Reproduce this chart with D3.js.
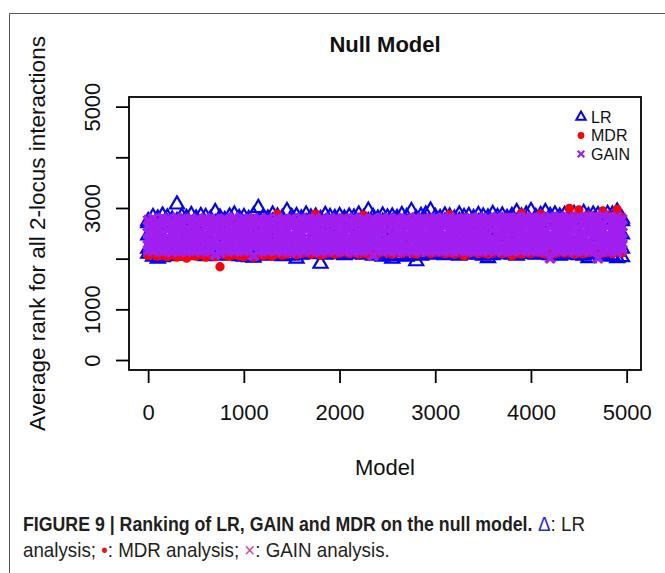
<!DOCTYPE html>
<html>
<head>
<meta charset="utf-8">
<script src="https://cdn.jsdelivr.net/npm/d3@7"></script>
<style>
  body { margin: 0; background: #fff; }
  svg { display: block; }
</style>
</head>
<body>
<div id="chart"></div>
<script>
// model index of each sampled column
const modelIds = [
  1, 51, 101, 151, 201, 251, 301, 351, 401, 451,
  501, 551, 601, 651, 701, 751, 801, 851, 901, 951,
  1001, 1051, 1101, 1151, 1201, 1251, 1301, 1351, 1401, 1451,
  1501, 1551, 1601, 1651, 1701, 1751, 1801, 1851, 1901, 1951,
  2001, 2051, 2101, 2151, 2201, 2251, 2301, 2351, 2401, 2451,
  2501, 2551, 2601, 2651, 2701, 2751, 2801, 2851, 2901, 2951,
  3001, 3051, 3101, 3151, 3201, 3251, 3301, 3351, 3401, 3451,
  3501, 3551, 3601, 3651, 3701, 3751, 3801, 3851, 3901, 3951,
  4001, 4051, 4101, 4151, 4201, 4251, 4301, 4351, 4401, 4451,
  4501, 4551, 4601, 4651, 4701, 4751, 4801, 4851, 4901, 4951
];

// LR average ranks (rows from the upper edge of the cloud to the lower edge)
const lrTop = [
  2740, 2820, 2790, 2850, 2810, 2770, 3070, 2830, 2800, 2860,
  2790, 2840, 2820, 2780, 2920, 2810, 2760, 2830, 2870, 2800,
  2820, 2780, 2850, 3000, 2810, 2790, 2870, 2830, 2800, 2940,
  2820, 2840, 2790, 2870, 2810, 2830, 2780, 2860, 2820, 2800,
  2840, 2790, 2830, 2810, 2870, 2800, 2950, 2820, 2790, 2850,
  2810, 2830, 2800, 2860, 2820, 2940, 2790, 2840, 2870, 2950,
  2820, 2800, 2850, 2830, 2790, 2870, 2820, 2840, 2800, 2860,
  2830, 2810, 2880, 2820, 2850, 2800, 2840, 2920, 2830, 2870,
  2940, 2820, 2860, 2920, 2840, 2870, 2830, 2860, 2820, 2880,
  2850, 2900, 2840, 2870, 2860, 2830, 2880, 2870, 2930, 2790
];
const lrUpper = [
  2700, 2660, 2730, 2680, 2710, 2650, 2740, 2690, 2720, 2670,
  2730, 2690, 2660, 2720, 2700, 2740, 2680, 2710, 2650, 2730,
  2690, 2720, 2670, 2740, 2700, 2660, 2730, 2690, 2710, 2680,
  2740, 2700, 2670, 2720, 2690, 2730, 2660, 2710, 2680, 2740,
  2700, 2730, 2690, 2660, 2720, 2680, 2740, 2710, 2670, 2730,
  2690, 2720, 2740, 2680, 2710, 2660, 2730, 2700, 2740, 2690,
  2720, 2680, 2730, 2710, 2670, 2740, 2700, 2690, 2730, 2720,
  2680, 2740, 2710, 2690, 2730, 2700, 2760, 2720, 2690, 2740,
  2710, 2750, 2700, 2730, 2760, 2720, 2740, 2710, 2750, 2730,
  2760, 2720, 2740, 2750, 2710, 2760, 2730, 2750, 2720, 2740
];
const lrMid = [
  2460, 2380, 2620, 2300, 2540, 2410, 2680, 2350, 2500, 2600,
  2280, 2450, 2570, 2390, 2650, 2330, 2480, 2610, 2260, 2520,
  2430, 2670, 2360, 2550, 2290, 2470, 2590, 2400, 2640, 2310,
  2500, 2380, 2620, 2440, 2270, 2560, 2410, 2660, 2340, 2490,
  2580, 2300, 2450, 2630, 2370, 2520, 2280, 2600, 2420, 2550,
  2330, 2640, 2470, 2390, 2570, 2260, 2500, 2610, 2350, 2460,
  2680, 2400, 2540, 2300, 2590, 2430, 2650, 2370, 2510, 2280,
  2620, 2450, 2340, 2570, 2410, 2660, 2290, 2530, 2390, 2600,
  2470, 2320, 2640, 2440, 2560, 2350, 2490, 2610, 2270, 2520,
  2400, 2580, 2330, 2650, 2460, 2300, 2550, 2420, 2620, 2480
];
const lrLower = [
  2200, 2230, 2180, 2210, 2240, 2190, 2220, 2170, 2230, 2200,
  2180, 2220, 2200, 2240, 2190, 2210, 2230, 2180, 2220, 2200,
  2240, 2190, 2210, 2230, 2180, 2220, 2200, 2240, 2190, 2210,
  2170, 2230, 2200, 2180, 2220, 2240, 2190, 2210, 2230, 2200,
  2220, 2180, 2240, 2200, 2210, 2190, 2230, 2180, 2220, 2240,
  2190, 2210, 2230, 2200, 2180, 2220, 2240, 2190, 2210, 2230,
  2200, 2180, 2220, 2240, 2190, 2210, 2230, 2200, 2180, 2220,
  2240, 2190, 2210, 2230, 2200, 2180, 2220, 2240, 2190, 2210,
  2230, 2200, 2180, 2220, 2240, 2190, 2210, 2230, 2200, 2180,
  2220, 2240, 2190, 2210, 2230, 2200, 2180, 2220, 2240, 2200
];
const lrBottom = [
  2100, 2040, 2000, 2030, 2050, 2070, 2090, 2060, 2080, 2100,
  2070, 2090, 2050, 2080, 2100, 2060, 2090, 2070, 2080, 2050,
  2040, 2030, 2020, 2070, 2090, 2060, 2080, 2100, 2050, 2070,
  2060, 2000, 2080, 2110, 2090, 2100, 1900, 2080, 2110, 2090,
  2100, 2070, 2110, 2090, 2120, 2080, 2100, 2060, 2090, 2040,
  2060, 2000, 2050, 2080, 2040, 2070, 1950, 2060, 2090, 2100,
  2080, 2100, 2070, 2110, 2090, 2060, 2100, 2080, 2110, 2090,
  2060, 2010, 2070, 2100, 2090, 2110, 2080, 2060, 2100, 2090,
  2100, 2080, 2110, 2090, 2070, 2100, 2060, 2090, 2110, 2080,
  2070, 2060, 2010, 2090, 2100, 2070, 2040, 2060, 2010, 2030
];

// MDR average ranks
const mdrTop = [
  2720, 2760, 2700, 2780, 2740, 2710, 2770, 2730, 2790, 2750,
  2700, 2780, 2740, 2760, 2720, 2790, 2730, 2770, 2750, 2710,
  2760, 2740, 2790, 2720, 2770, 2750, 2730, 2880, 2760, 2740,
  2780, 2720, 2770, 2750, 2790, 2880, 2740, 2760, 2730, 2780,
  2750, 2790, 2730, 2770, 2740, 2860, 2760, 2720, 2790, 2750,
  2770, 2730, 2780, 2760, 2740, 2790, 2750, 2770, 2730, 2800,
  2760, 2790, 2740, 2870, 2770, 2750, 2800, 2730, 2780, 2760,
  2790, 2750, 2800, 2770, 2740, 2810, 2760, 2790, 2900, 2780,
  2800, 2770, 2880, 2810, 2790, 2830, 2800, 2820, 2990, 2840,
  2960, 2810, 2850, 2830, 2800, 2940, 2860, 2830, 2970, 2820
];
const mdrBottom = [
  2060, 2090, 2050, 2070, 2040, 2080, 2030, 2060, 2010, 2070,
  2050, 2080, 2030, 2060, 2040, 1840, 2070, 2050, 2080, 2060,
  2040, 2070, 2030, 2090, 2060, 2080, 2050, 2100, 2070, 2090,
  2110, 2080, 2100, 2120, 2090, 2110, 2070, 2100, 2120, 2090,
  2110, 2130, 2100, 2120, 2090, 2110, 2080, 2120, 2100, 2130,
  2110, 2090, 2120, 2100, 2130, 2110, 2090, 2120, 2140, 2100,
  2120, 2130, 2100, 2110, 2090, 2120, 2060, 2110, 2130, 2100,
  2120, 2090, 2110, 2130, 2100, 2120, 2060, 2110, 2090, 2120,
  2100, 2130, 2110, 2090, 2120, 2100, 2130, 2110, 2120, 2090,
  2110, 2100, 2120, 2130, 2090, 2110, 2120, 2100, 2130, 2110
];

// GAIN average ranks, from the top of the cloud down
const gainTop = [
  2760, 2790, 2740, 2800, 2770, 2750, 2810, 2780, 2760, 2790,
  2770, 2740, 2800, 2760, 2780, 2750, 2790, 2770, 2810, 2760,
  2780, 2750, 2790, 2770, 2740, 2800, 2760, 2790, 2770, 2750,
  2790, 2760, 2800, 2780, 2750, 2790, 2770, 2760, 2800, 2780,
  2750, 2790, 2770, 2800, 2760, 2780, 2740, 2790, 2770, 2800,
  2780, 2760, 2800, 2770, 2790, 2750, 2810, 2780, 2760, 2790,
  2800, 2770, 2790, 2810, 2780, 2760, 2800, 2790, 2770, 2810,
  2780, 2800, 2770, 2820, 2790, 2800, 2780, 2810, 2790, 2820,
  2800, 2780, 2810, 2790, 2820, 2800, 2830, 2790, 2810, 2800,
  2820, 2790, 2830, 2810, 2800, 2840, 2810, 2790, 2820, 2780
];
const gainUpper = [
  2640, 2670, 2620, 2660, 2690, 2630, 2650, 2680, 2610, 2660,
  2640, 2680, 2630, 2670, 2650, 2620, 2690, 2640, 2660, 2630,
  2670, 2650, 2620, 2680, 2640, 2660, 2690, 2630, 2650, 2670,
  2620, 2660, 2640, 2690, 2650, 2630, 2670, 2640, 2680, 2620,
  2660, 2640, 2690, 2630, 2670, 2650, 2620, 2680, 2660, 2640,
  2690, 2630, 2660, 2650, 2620, 2680, 2640, 2670, 2630, 2660,
  2650, 2690, 2620, 2660, 2640, 2680, 2650, 2630, 2670, 2640,
  2660, 2620, 2690, 2650, 2630, 2670, 2640, 2660, 2680, 2630,
  2650, 2670, 2640, 2690, 2620, 2660, 2650, 2680, 2640, 2670,
  2630, 2660, 2690, 2640, 2650, 2670, 2620, 2680, 2660, 2640
];
const gainMid = [
  2510, 2540, 2490, 2530, 2560, 2500, 2520, 2550, 2480, 2530,
  2510, 2550, 2500, 2540, 2520, 2490, 2560, 2510, 2530, 2500,
  2540, 2520, 2490, 2550, 2510, 2530, 2560, 2500, 2520, 2540,
  2490, 2530, 2510, 2560, 2520, 2500, 2540, 2510, 2550, 2490,
  2530, 2510, 2560, 2500, 2540, 2520, 2490, 2550, 2530, 2510,
  2560, 2500, 2530, 2520, 2490, 2550, 2510, 2540, 2500, 2530,
  2520, 2560, 2490, 2530, 2510, 2550, 2520, 2500, 2540, 2510,
  2530, 2490, 2560, 2520, 2500, 2540, 2510, 2530, 2550, 2500,
  2520, 2540, 2510, 2560, 2490, 2530, 2520, 2550, 2510, 2540,
  2500, 2530, 2560, 2510, 2520, 2540, 2490, 2550, 2530, 2510
];
const gainLower = [
  2390, 2360, 2410, 2380, 2350, 2400, 2370, 2420, 2380, 2360,
  2400, 2370, 2410, 2350, 2390, 2420, 2360, 2400, 2380, 2410,
  2370, 2390, 2420, 2360, 2400, 2380, 2350, 2410, 2390, 2370,
  2420, 2380, 2400, 2360, 2390, 2410, 2370, 2400, 2350, 2420,
  2380, 2400, 2360, 2410, 2390, 2370, 2420, 2380, 2400, 2360,
  2410, 2390, 2370, 2400, 2420, 2360, 2390, 2380, 2410, 2370,
  2400, 2360, 2420, 2390, 2380, 2410, 2370, 2400, 2360, 2390,
  2410, 2380, 2400, 2370, 2420, 2390, 2360, 2410, 2380, 2400,
  2370, 2390, 2410, 2360, 2400, 2380, 2420, 2370, 2390, 2410,
  2380, 2400, 2360, 2420, 2390, 2370, 2410, 2380, 2400, 2390
];
const gainLow = [
  2270, 2250, 2290, 2260, 2240, 2280, 2260, 2300, 2250, 2270,
  2290, 2240, 2280, 2260, 2230, 2270, 2250, 2290, 2260, 2280,
  2250, 2270, 2220, 2280, 2260, 2290, 2250, 2270, 2280, 2240,
  2260, 2290, 2250, 2270, 2280, 2240, 2260, 2290, 2270, 2250,
  2280, 2260, 2290, 2240, 2270, 2280, 2250, 2230, 2260, 2290,
  2270, 2250, 2280, 2260, 2290, 2240, 2270, 2280, 2250, 2260,
  2290, 2270, 2250, 2280, 2260, 2240, 2290, 2270, 2250, 2280,
  2260, 2290, 2240, 2270, 2280, 2250, 2260, 2290, 2270, 2250,
  2280, 2260, 2290, 2250, 2270, 2280, 2240, 2290, 2260, 2270,
  2250, 2280, 2260, 2290, 2240, 2270, 2280, 2260, 2250, 2290
];
const gainBottom = [
  2170, 2150, 2180, 2140, 2160, 2130, 2170, 2150, 2140, 2180,
  2160, 2140, 2170, 2150, 2080, 2120, 2160, 2180, 2140, 2170,
  2150, 2160, 2060, 2140, 2170, 2150, 2180, 2160, 2140, 2170,
  2150, 2130, 2160, 2180, 2150, 2170, 2140, 2160, 2180, 2150,
  2170, 2150, 2180, 2140, 2160, 2170, 2150, 2060, 2170, 2150,
  2160, 2180, 2140, 2170, 2150, 2160, 2180, 2140, 2170, 2160,
  2150, 2180, 2160, 2140, 2170, 2150, 2180, 2160, 2140, 2170,
  2160, 2150, 2180, 2170, 2140, 2160, 2150, 2180, 2160, 2170,
  2150, 2170, 2160, 2140, 2010, 2170, 2150, 2180, 2160, 2140,
  2170, 2150, 2160, 2180, 2010, 2160, 2150, 2170, 2140, 2180
];

const xTicks = [0, 1000, 2000, 3000, 4000, 5000];
const yTicks = [0, 1000, 2000, 3000, 4000, 5000];
// R drops the 2000 and 4000 labels because they would overlap
const yTickLabels = ["0", "1000", "", "3000", "", "5000"];
const legendLabels = ["LR", "MDR", "GAIN"];

const W = 665, H = 573;
const plot = { left: 129, right: 641, top: 97, bottom: 370 };
const colors = { LR: "#0000ff", MDR: "#ff0000", GAIN: "#a020f0" };

const svg = d3.select("#chart").append("svg")
  .attr("width", W)
  .attr("height", H)
  .style("font-family", "'Liberation Sans', Arial, Helvetica, sans-serif");

// outer figure frame (cut off on the right and bottom)
svg.append("path")
  .attr("d", `M9.5,${H}V13.5H${W}`)
  .attr("fill", "none")
  .attr("stroke", "#555")
  .attr("stroke-width", 1);

const x = d3.scaleLinear().domain([-200, 5150]).range([plot.left, plot.right]);
const y = d3.scaleLinear().domain([-197, 5190]).range([plot.bottom, plot.top]);

// marker shapes
const triPath = d3.symbol(d3.symbolTriangle, 85)();
const crossPath = s => `M${-s},${-s}L${s},${s}M${-s},${s}L${s},${-s}`;

const series = [
  { name: "LR", rows: [lrMid, lrUpper, lrLower, lrTop, lrBottom] },
  { name: "MDR", rows: [mdrTop, mdrBottom] },
  { name: "GAIN", rows: [gainTop, gainUpper, gainMid, gainLower, gainLow, gainBottom] }
];

const $points = svg.append("g");
series.forEach(function (s) {
  const pts = [];
  s.rows.forEach(row => row.forEach((v, i) => pts.push({ m: modelIds[i], v: v })));
  const $g = $points.append("g").attr("class", "series-" + s.name);
  const $p = $g.selectAll("path")
    .data(pts)
    .join("path")
    .attr("transform", d => `translate(${x(d.m)},${y(d.v)})`);
  if (s.name === "LR") {
    $p.attr("d", triPath).attr("fill", "none").attr("stroke", colors.LR).attr("stroke-width", 2.2);
  } else if (s.name === "MDR") {
    $p.attr("d", d3.symbol(d3.symbolCircle, 68)()).attr("fill", colors.MDR);
  } else {
    $p.attr("d", crossPath(4.6)).attr("fill", "none").attr("stroke", colors.GAIN).attr("stroke-width", 3.8);
  }
});

// plot box
svg.append("rect")
  .attr("x", plot.left).attr("y", plot.top)
  .attr("width", plot.right - plot.left).attr("height", plot.bottom - plot.top)
  .attr("fill", "none").attr("stroke", "#000").attr("stroke-width", 1.8);

// x axis
const $xAxis = svg.append("g")
  .attr("transform", `translate(0,${plot.bottom})`)
  .call(d3.axisBottom(x).tickValues(xTicks).tickSize(13).tickFormat(d3.format("d")));
$xAxis.attr("font-size", null).attr("font-family", null);
$xAxis.select(".domain").remove();
$xAxis.selectAll(".tick line").attr("stroke", "#000").attr("stroke-width", 1.8);
$xAxis.selectAll(".tick text")
  .attr("y", 50).attr("dy", null)
  .attr("font-size", 22).attr("fill", "#111");

// y axis, labels parallel to the axis
const $yAxis = svg.append("g")
  .attr("transform", `translate(${plot.left},0)`)
  .call(d3.axisLeft(y).tickValues(yTicks).tickSize(13)
    .tickFormat((d, i) => yTickLabels[i]));
$yAxis.attr("font-size", null).attr("font-family", null);
$yAxis.select(".domain").remove();
$yAxis.selectAll(".tick line").attr("stroke", "#000").attr("stroke-width", 1.8);
$yAxis.selectAll(".tick text")
  .attr("transform", "rotate(-90)")
  .attr("x", 0).attr("y", -29).attr("dy", null)
  .attr("text-anchor", "middle")
  .attr("font-size", 22).attr("fill", "#111");

// titles
const cx = (plot.left + plot.right) / 2;
svg.append("text")
  .attr("x", cx).attr("y", 52)
  .attr("text-anchor", "middle")
  .attr("font-size", 22).attr("font-weight", "bold").attr("fill", "#111")
  .text("Null Model");

svg.append("text")
  .attr("x", cx).attr("y", 475)
  .attr("text-anchor", "middle")
  .attr("font-size", 22).attr("fill", "#111")
  .text("Model");

svg.append("text")
  .attr("transform", `translate(45,${(plot.top + plot.bottom) / 2}) rotate(-90)`)
  .attr("text-anchor", "middle")
  .attr("font-size", 22.5).attr("fill", "#111")
  .text("Average rank for all 2-locus interactions");

// legend (no box)
const $legend = svg.append("g").attr("transform", "translate(581,117)");
legendLabels.forEach(function (name, i) {
  const $item = $legend.append("g").attr("transform", `translate(0,${i * 18.5})`);
  if (name === "LR") {
    $item.append("path").attr("d", d3.symbol(d3.symbolTriangle, 38)())
      .attr("fill", "none").attr("stroke", colors.LR).attr("stroke-width", 2);
  } else if (name === "MDR") {
    $item.append("circle").attr("r", 3.4).attr("fill", colors.MDR);
  } else {
    $item.append("path").attr("d", crossPath(3.3))
      .attr("fill", "none").attr("stroke", colors.GAIN).attr("stroke-width", 2.2);
  }
  $item.append("text")
    .attr("x", 10).attr("dy", "0.36em")
    .attr("font-size", 16).attr("fill", "#111")
    .text(name);
});

// figure caption, condensed face: each piece is squeezed to its measured width
const capSize = 20.5;
const $capBold = svg.append("g").attr("fill", "#231f20").attr("font-size", capSize);
const $bold = $capBold.append("text").attr("x", 0).attr("y", 531).attr("font-weight", "bold")
  .text("FIGURE 9 | Ranking of LR, GAIN and MDR on the null model.");
const sb = 510 / $bold.node().getComputedTextLength();
$capBold.attr("transform", `translate(23,0) scale(${sb},1)`);

const $capReg = svg.append("g").attr("fill", "#231f20").attr("font-size", capSize);
const $line2 = $capReg.append("text").attr("x", 0).attr("y", 557);
$line2.append("tspan").text("analysis; ");
$line2.append("tspan").attr("fill", "#e8141e").text("\u2022");
$line2.append("tspan").text(": MDR analysis; ");
$line2.append("tspan").attr("fill", "#e0409f").text("\u00d7");
$line2.append("tspan").text(": GAIN analysis.");
const sr = 367 / $line2.node().getComputedTextLength();
$capReg.attr("transform", `translate(23,0) scale(${sr},1)`);

const $capTail = svg.append("g").attr("fill", "#231f20").attr("font-size", capSize)
  .attr("transform", `translate(538,0) scale(${sr},1)`);
const $tail = $capTail.append("text").attr("x", 0).attr("y", 531);
$tail.append("tspan").attr("fill", "#2a2ae0").text("\u0394");
$tail.append("tspan").text(": LR");
</script>
</body>
</html>
